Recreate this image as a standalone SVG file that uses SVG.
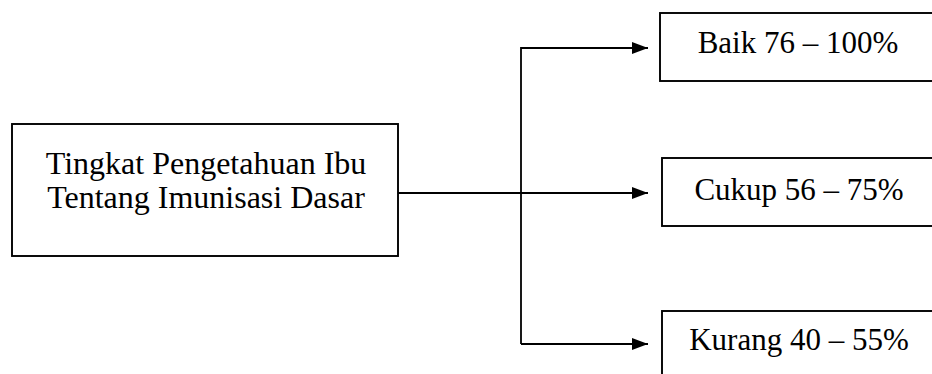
<svg xmlns="http://www.w3.org/2000/svg" width="932" height="374" viewBox="0 0 932 374">
<style>
.box{fill:#fff;stroke:#000;stroke-width:1.9}
.t{font-family:"Liberation Serif","Times New Roman",serif;font-size:31px;fill:#000}
.m{font-size:32px}
.c{fill:none;stroke:#000;stroke-width:1.8}
</style>
<defs>
<marker id="ah" markerWidth="16" markerHeight="12" refX="16" refY="6" orient="auto" markerUnits="userSpaceOnUse">
<path d="M0,0 L16,6 L0,12 z" fill="#000"/>
</marker>
</defs>
<rect width="932" height="374" fill="#fff"/>
<g id="connectors">
<line class="c" x1="398" y1="193" x2="648" y2="193" marker-end="url(#ah)"/>
<polyline class="c" points="521,344 521,48 648,48" marker-end="url(#ah)"/>
<line class="c" x1="521" y1="344" x2="648" y2="344" marker-end="url(#ah)"/>
</g>
<g id="main">
<rect class="box" x="12" y="124" width="386" height="132"/>
<text class="t m" x="206" y="174" text-anchor="middle">Tingkat Pengetahuan Ibu</text>
<text class="t m" x="206" y="208" text-anchor="middle">Tentang Imunisasi Dasar</text>
</g>
<g id="baik">
<rect class="box" x="660" y="13" width="290" height="68"/>
<text class="t" x="798" y="53" text-anchor="middle">Baik 76 – 100%</text>
</g>
<g id="cukup">
<rect class="box" x="662" y="158" width="290" height="68"/>
<text class="t" x="799" y="200" text-anchor="middle">Cukup 56 – 75%</text>
</g>
<g id="kurang">
<rect class="box" x="662" y="311" width="290" height="80"/>
<text class="t" x="799" y="350" text-anchor="middle">Kurang 40 – 55%</text>
</g>
</svg>
